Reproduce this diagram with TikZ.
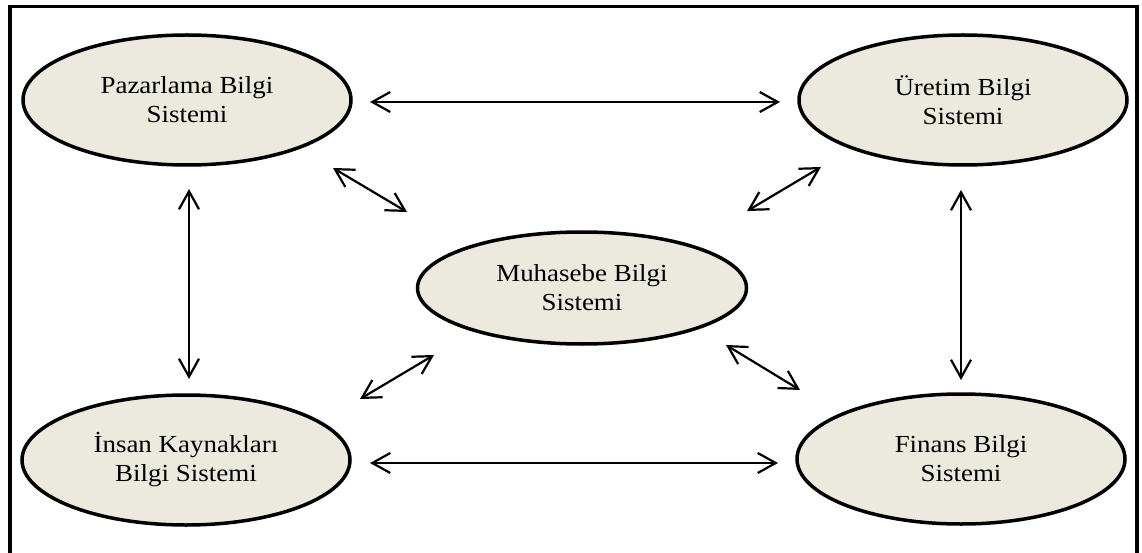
\documentclass[tikz,border=0pt]{standalone}
\usepackage{fontspec}
\setmainfont{Liberation Serif}[FakeStretch=1.1]
\usetikzlibrary{shapes.geometric,arrows.meta}
\definecolor{boxfill}{RGB}{236,234,223}
\begin{document}
\begin{tikzpicture}[x=1pt,y=-1pt,
  sysnode/.style={ellipse, draw=black, line width=3.5pt, fill=boxfill,
    inner sep=0pt, minimum width=328pt, minimum height=130pt,
    align=center, font=\fontsize{24.5pt}{29pt}\selectfont},
  link/.style={line width=2.2pt, {Straight Barb[length=18pt,width=20pt]}-{Straight Barb[length=18pt,width=20pt]}}]
\useasboundingbox (0,0) rectangle (1142,553);
% outer frame, open at the bottom
\draw[line width=3.5pt] (10,560) -- (10,6.5) -- (1137,6.5) -- (1137,560);

% the five information systems
\node[sysnode] (paz) at (187,100) {Pazarlama Bilgi\\Sistemi};
\node[sysnode] (ure) at (963,100) {Üretim Bilgi\\Sistemi};
\node[sysnode] (ins) at (186,460) {İnsan Kaynakları\\Bilgi Sistemi};
\node[sysnode] (fin) at (961,459) {Finans Bilgi\\Sistemi};
\node[sysnode, minimum width=329pt, minimum height=112pt] (muh) at (582,288) {Muhasebe Bilgi\\Sistemi};

% arrow end points
\coordinate (pazE) at (370,102);  \coordinate (ureW) at (780,102);
\coordinate (insE) at (370,463);  \coordinate (finW) at (778,463);
\coordinate (pazS) at (189,189);  \coordinate (insN) at (189,379);
\coordinate (ureS) at (961,190);  \coordinate (finN) at (961,380);
\coordinate (pazSE) at (333,168); \coordinate (muhNW) at (407,212);
\coordinate (ureSW) at (821,167); \coordinate (muhNE) at (747,211);
\coordinate (insNE) at (360,399); \coordinate (muhSW) at (434,355);
\coordinate (finNW) at (800,390); \coordinate (muhSE) at (726,345);

% two-way connections
\draw[link] (pazE) -- (ureW);
\draw[link] (insE) -- (finW);
\draw[link] (pazS) -- (insN);
\draw[link] (ureS) -- (finN);
\draw[link] (pazSE) -- (muhNW);
\draw[link] (ureSW) -- (muhNE);
\draw[link] (insNE) -- (muhSW);
\draw[link] (finNW) -- (muhSE);
\end{tikzpicture}
\end{document}
